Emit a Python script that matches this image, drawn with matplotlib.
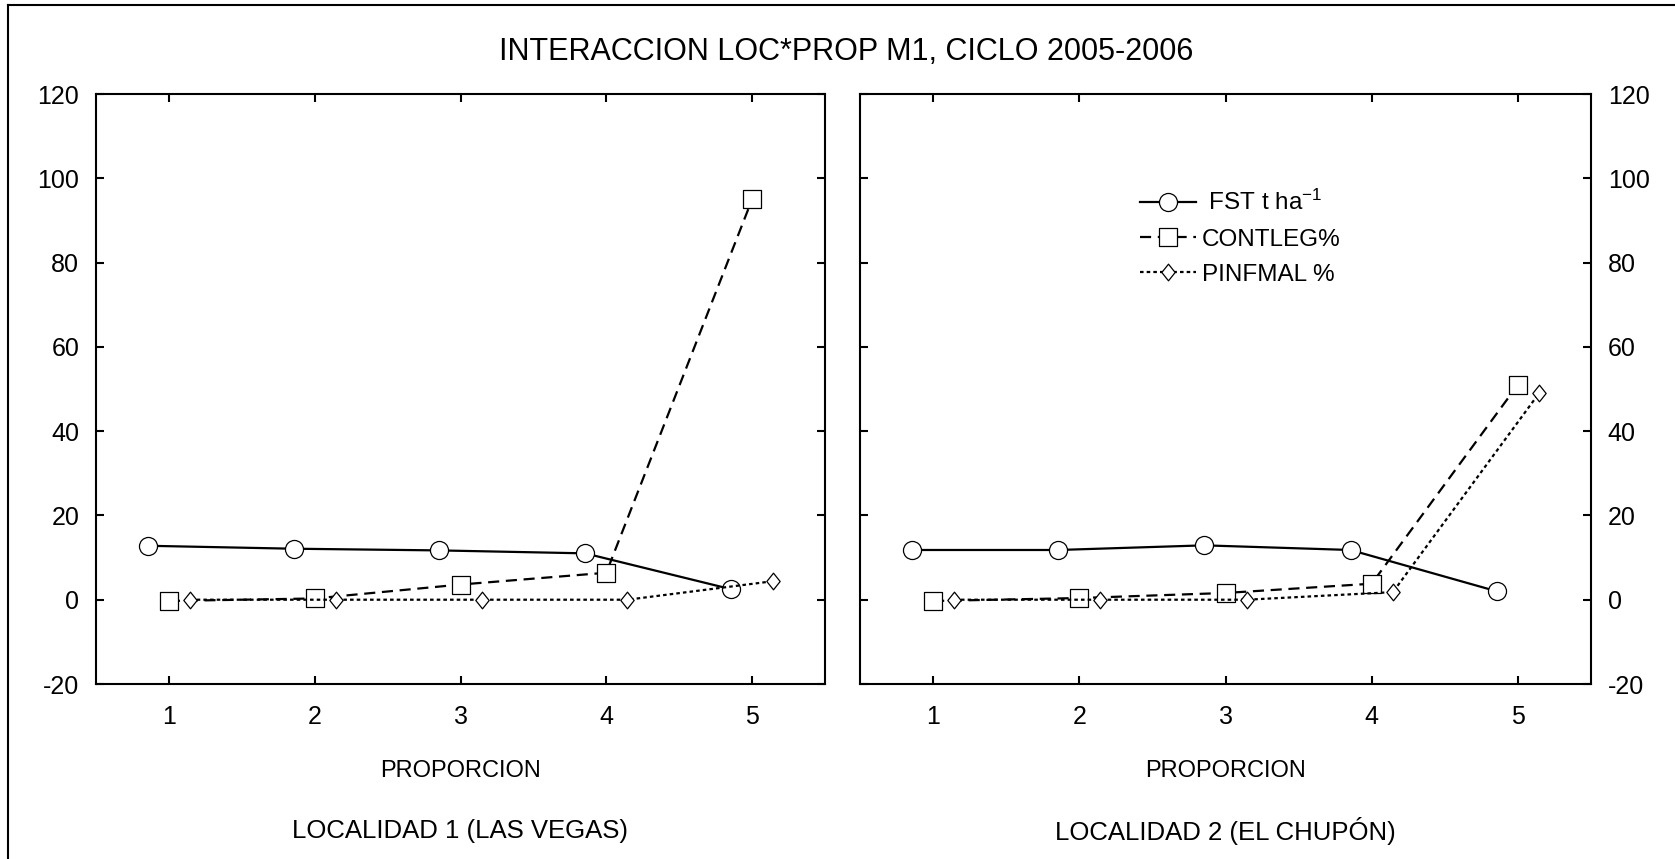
import matplotlib
matplotlib.use("Agg")
import matplotlib.pyplot as plt
from matplotlib.lines import Line2D
from matplotlib.path import Path
import numpy as np

plt.rcParams['font.family'] = ['Liberation Sans', 'DejaVu Sans']
plt.rcParams['mathtext.fontset'] = 'custom'
plt.rcParams['mathtext.rm'] = 'Liberation Sans'
plt.rcParams['mathtext.it'] = 'Liberation Sans'
plt.rcParams['axes.unicode_minus'] = False

# Data
proporcion = [1, 2, 3, 4, 5]
series_names = [" FST t ha$^{-1}$", "CONTLEG%", "PINFMAL %"]
panel_titles = ["LOCALIDAD 1 (LAS VEGAS)", "LOCALIDAD 2 (EL CHUPÓN)"]

fst_loc1 = [12.8, 12.1, 11.7, 11.0, 2.5]
contleg_loc1 = [-0.3, 0.3, 3.6, 6.4, 95.0]
pinfmal_loc1 = [0.0, 0.0, 0.0, 0.0, 4.4]

fst_loc2 = [11.8, 11.8, 12.9, 11.8, 2.0]
contleg_loc2 = [-0.3, 0.4, 1.6, 3.8, 51.0]
pinfmal_loc2 = [0.0, 0.0, 0.0, 1.8, 49.0]

y_ticks = [-20, 0, 20, 40, 60, 80, 100, 120]
x_ticks = [1, 2, 3, 4, 5]

W, H = 1675, 859
fig = plt.figure(figsize=(W / 100, H / 100), dpi=100)
fig.patch.set_facecolor('white')

# marker shapes
square = Path([(-1, -1), (1, -1), (1, 1), (-1, 1), (-1, -1)],
              [Path.MOVETO, Path.LINETO, Path.LINETO, Path.LINETO, Path.CLOSEPOLY])
diamond = Path([(0, 1), (0.8, 0), (0, -1), (-0.8, 0), (0, 1)],
               [Path.MOVETO, Path.LINETO, Path.LINETO, Path.LINETO, Path.CLOSEPOLY])

styles = [
    dict(linestyle='-', marker='o', ms=13, offset=-0.145),
    dict(linestyle=(0, (5, 3)), marker=square, ms=12.5, offset=0.0),
    dict(linestyle=(0, (1.6, 1.4)), marker=diamond, ms=12, offset=0.145),
]

ax_rects = [
    (96 / W, 1 - 684 / H, (825 - 96) / W, (684 - 94) / H),
    (860 / W, 1 - 684 / H, (1591 - 860) / W, (684 - 94) / H),
]

data = [
    [fst_loc1, contleg_loc1, pinfmal_loc1],
    [fst_loc2, contleg_loc2, pinfmal_loc2],
]

for i, rect in enumerate(ax_rects):
    ax = fig.add_axes(rect)
    x = np.array(proporcion, dtype=float)
    handles = []
    for vals, st, name in zip(data[i], styles, series_names):
        h, = ax.plot(x + st['offset'], vals, color='black', lw=1.6,
                     linestyle=st['linestyle'], marker=st['marker'],
                     ms=st['ms'], mfc='white', mec='black', mew=0.9,
                     label=name, dash_capstyle='butt')
        handles.append(h)
    ax.set_xlim(0.5, 5.5)
    ax.set_ylim(-20, 120)
    ax.set_xticks(x_ticks)
    ax.set_yticks(y_ticks)
    ax.tick_params(direction='in', length=6, width=1.5, labelsize=18,
                   top=True, right=True)
    ax.tick_params(axis='y', pad=12)
    ax.tick_params(axis='x', pad=15)
    if i == 1:
        ax.tick_params(labelleft=False, labelright=True)
    for sp in ax.spines.values():
        sp.set_linewidth(1.5)
    cx = rect[0] + rect[2] / 2
    fig.text(cx, 1 - 771 / H, "PROPORCION", ha='center', va='center', fontsize=17)
    fig.text(cx, 1 - 831 / H, panel_titles[i], ha='center', va='center', fontsize=18.5)
    if i == 1:
        ax.legend(handles=handles, loc='upper left', frameon=False,
                  bbox_to_anchor=(1140 / W, 1 - 190 / H),
                  bbox_transform=fig.transFigure, fontsize=17.5,
                  borderpad=0, handlelength=2.3, handletextpad=0.25,
                  labelspacing=0.55, borderaxespad=0)

fig.text(846 / W, 1 - 52 / H, "INTERACCION LOC*PROP M1, CICLO 2005-2006",
         ha='center', va='center', fontsize=22)

# frame lines along the left and top of the figure
fig.add_artist(Line2D([8 / W, 8 / W], [0, 1 - 5 / H], transform=fig.transFigure,
                      color='black', lw=1.5))
fig.add_artist(Line2D([8 / W, 1], [1 - 5 / H, 1 - 5 / H], transform=fig.transFigure,
                      color='black', lw=1.5))

fig.savefig("out.png", dpi=100, facecolor='white')
